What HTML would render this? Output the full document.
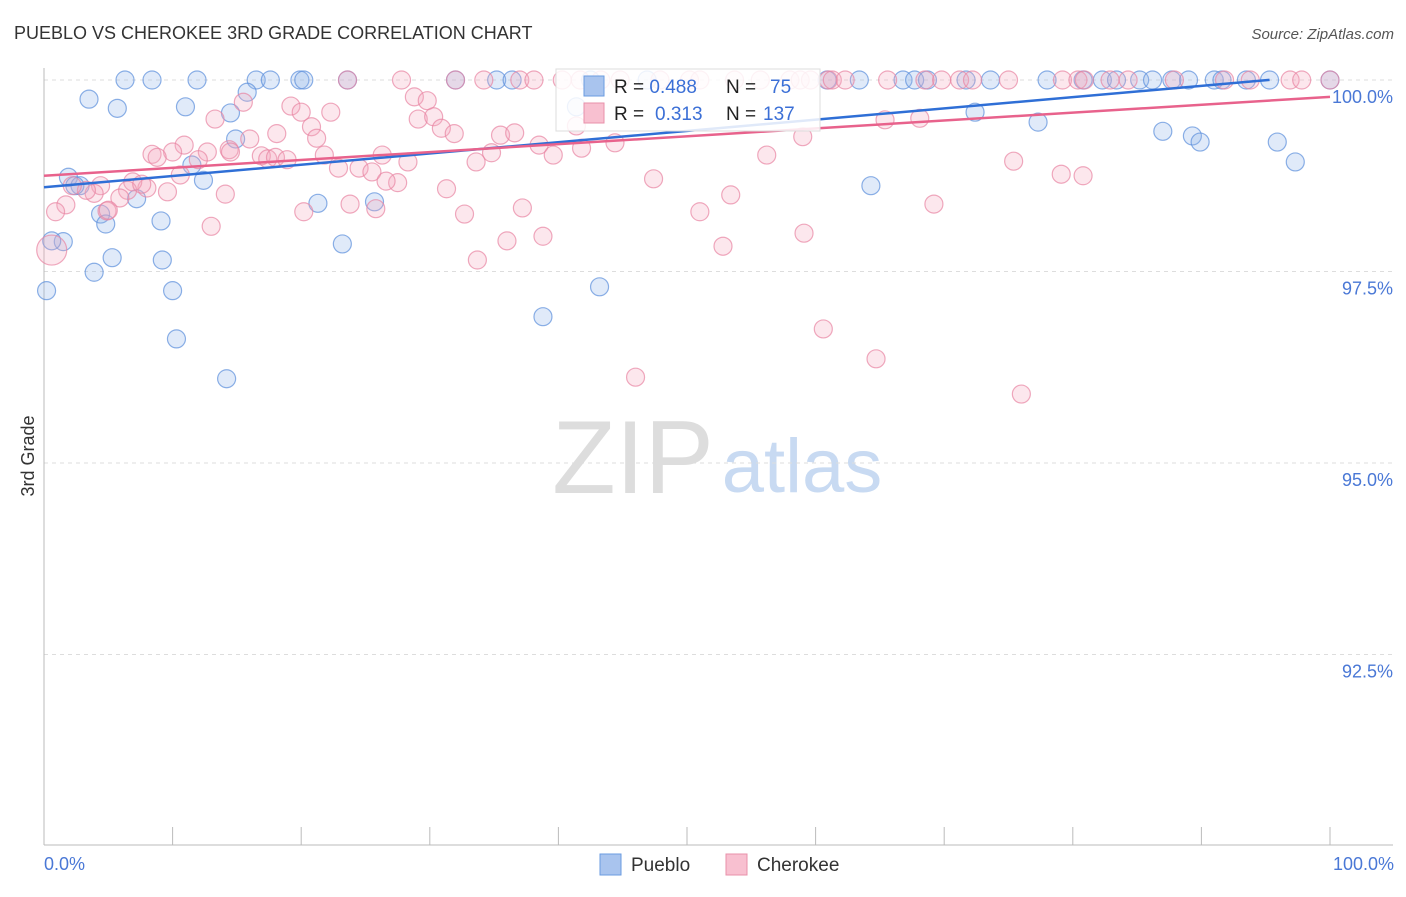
<!DOCTYPE html>
<html><head><meta charset="utf-8"><style>
body{margin:0;background:#fff;font-family:"Liberation Sans",sans-serif}
svg text{font-family:"Liberation Sans",sans-serif}
</style></head><body>
<svg id="chart" width="1406" height="892" xmlns="http://www.w3.org/2000/svg">
<text x="14" y="39" font-size="18" fill="#333">PUEBLO VS CHEROKEE 3RD GRADE CORRELATION CHART</text>
<text x="1394" y="39" font-size="15" fill="#555" text-anchor="end" font-style="italic">Source: ZipAtlas.com</text>
<text x="34" y="456" font-size="18" fill="#333" text-anchor="middle" transform="rotate(-90 34 456)">3rd Grade</text>
<g><text x="633" y="493" font-size="104" fill="#ddd" font-family="Liberation Serif,serif" text-anchor="middle">ZIP</text><text x="802" y="492" font-size="76" fill="#c8daf2" text-anchor="middle">atlas</text></g>
<g id="grid"></g><g id="axes"></g><g id="pts"></g><g id="trend"></g>
<g>
<rect x="556" y="69" width="264" height="62" fill="#fff" fill-opacity="0.85" stroke="#ddd"/>
<rect x="584" y="76" width="20" height="20" fill="#a9c4ee" stroke="#6a9be0"/>
<rect x="584" y="103" width="20" height="20" fill="#f8c0d0" stroke="#e890aa"/>
<text x="614" y="93" font-size="19" fill="#222">R = <tspan fill="#3b6fd6">0.488</tspan><tspan x="726">N = </tspan><tspan x="770" fill="#3b6fd6">75</tspan></text>
<text x="614" y="120" font-size="19" fill="#222">R = <tspan x="655" fill="#3b6fd6">0.313</tspan><tspan x="726">N = </tspan><tspan x="763" fill="#3b6fd6">137</tspan></text>
</g>
<g>
<rect x="600" y="854" width="21" height="21" fill="#a9c4ee" stroke="#6a9be0"/>
<text x="631" y="871" font-size="19" fill="#333">Pueblo</text>
<rect x="726" y="854" width="21" height="21" fill="#f8c0d0" stroke="#e890aa"/>
<text x="757" y="871" font-size="19" fill="#333">Cherokee</text>
</g>
</svg>
<script>
const yTicks=[100,97.5,95,92.5];
const yTickLabels=["100.0%","97.5%","95.0%","92.5%"];
const xEndLabels=["0.0%","100.0%"];
const puebloX=[6.3,8.4,11.9,16.5,17.6,19.9,20.2,23.6,32.0,35.2,36.4,42.5,46.9,60.9,63.4,66.8,67.7,68.7,71.7,73.6,78.0,80.8,82.3,83.4,85.2,86.2,87.7,89.0,91.0,91.6,93.5,95.3,100,
3.5,5.7,11.0,14.5,15.8,14.9,11.5,12.4,1.9,2.8,2.4,4.4,4.8,7.2,9.1,9.2,10.0,10.3,14.2,5.3,3.9,1.5,0.6,0.2,21.3,23.2,25.7,38.8,43.2,64.3,72.4,77.3,87.0,89.3,89.9,95.9,97.3,41.4];
const puebloY=[100,100,100,100,100,100,100,100,100,100,100,100,100,100,100,100,100,100,100,100,100,100,100,100,100,100,100,100,100,100,100,100,100,
99.75,99.63,99.65,99.57,99.84,99.23,98.89,98.69,98.73,98.62,98.62,98.25,98.12,98.45,98.16,97.65,97.25,96.62,96.10,97.68,97.49,97.89,97.90,97.25,98.39,97.86,98.41,96.91,97.30,98.62,99.58,99.45,99.33,99.27,99.19,99.19,98.93,99.65];
const cherokeeX=[23.6,27.8,32.0,34.2,37.0,38.1,40.3,41.7,43.3,44.8,47.9,50.2,51.0,53.7,55.7,58.0,58.8,59.6,61.0,61.3,62.3,65.6,68.5,69.8,71.2,72.2,75.0,79.2,80.4,80.9,82.9,84.3,87.9,91.8,93.8,96.9,97.8,100,
15.5,13.3,19.2,20.0,20.8,22.3,21.2,16.0,18.1,14.4,14.5,12.7,10.9,10.0,8.4,8.8,12.0,16.9,17.4,18.0,18.9,21.8,22.9,24.5,25.5,26.3,28.3,28.8,29.8,29.1,30.3,30.9,31.9,35.5,36.6,34.8,33.6,38.5,39.6,41.8,44.4,41.4,59.0,65.4,68.1,56.2,75.4,79.1,80.8,47.4,31.3,27.5,26.6,25.8,23.8,20.2,14.1,9.6,8.0,6.9,6.5,5.9,4.9,4.4,3.9,3.3,2.2,1.7,0.9,0.6,13.0,32.7,37.2,51.0,53.4,52.8,59.1,69.2,38.8,36.0,33.7,60.6,64.7,46.0,76.0,10.6,7.6,5.0];
const cherokeeY=[100,100,100,100,100,100,100,100,100,100,100,100,100,100,100,100,100,100,100,100,100,100,100,100,100,100,100,100,100,100,100,100,100,100,100,100,100,100,
99.71,99.49,99.66,99.58,99.39,99.58,99.24,99.23,99.30,99.09,99.06,99.06,99.15,99.06,99.03,98.99,98.96,99.01,98.97,98.99,98.96,99.02,98.85,98.85,98.80,99.02,98.93,99.78,99.73,99.49,99.52,99.37,99.30,99.28,99.31,99.05,98.93,99.15,99.02,99.11,99.18,99.40,99.26,99.48,99.50,99.02,98.94,98.77,98.75,98.71,98.58,98.66,98.68,98.32,98.38,98.28,98.51,98.54,98.59,98.67,98.56,98.46,98.29,98.62,98.52,98.56,98.62,98.37,98.28,97.78,98.09,98.25,98.33,98.28,98.50,97.83,98.00,98.38,97.96,97.90,97.65,96.75,96.36,96.12,95.90,98.76,98.64,98.30];
const puebloTrend=[98.6,0.0147];   // intercept, slope
const cherokeeTrend=[98.75,0.0103];
const NS="http://www.w3.org/2000/svg";
const X0=44,X1=1330,Y100=80,PX_PER=76.6;
function sx(v){return X0+(X1-X0)*v/100;}
function sy(v){return Y100+(100-v)*PX_PER;}
function mk(t,a,p){const e=document.createElementNS(NS,t);for(const k in a)e.setAttribute(k,a[k]);(p||document.getElementById('chart')).appendChild(e);return e;}
const grid=document.getElementById('grid'),axes=document.getElementById('axes'),pts=document.getElementById('pts'),tr=document.getElementById('trend');
yTicks.forEach((v,i)=>{
 const l=mk('line',{x1:44,x2:1393,y1:sy(v),y2:sy(v),stroke:'#ddd','stroke-dasharray':'4,4'},grid);
 
 
 const t=mk('text',{x:1393,y:sy(v)+23,'font-size':18,fill:'#4a78d6','text-anchor':'end'},axes);
 t.textContent=yTickLabels[i];
 
 
});
const ax=mk('line',{x1:44,x2:44,y1:68,y2:845,stroke:'#bbb'},axes);


const bx=mk('line',{x1:44,x2:1393,y1:845,y2:845,stroke:'#bbb'},axes);


for(let i=0;i<=10;i++){
 const tk=mk('line',{x1:sx(i*10),x2:sx(i*10),y1:827,y2:845,stroke:'#bbb'},axes);
 
 
}
[[0,'start',44],[1,'end',1394]].forEach(([i,a,x])=>{
 const t=mk('text',{x:x,y:870,'font-size':18,fill:'#4a78d6','text-anchor':a},axes);
 t.textContent=xEndLabels[i];
 
 
});
function dots(xs,ys,fill,stroke,name){
 xs.forEach((x,i)=>{
  const big=(name==='cherokee-point'&&x<1&&ys[i]<97.9);
  const c=mk('circle',{cx:sx(x),cy:sy(ys[i]),r:big?15:9,fill:fill,'fill-opacity':0.28,stroke:stroke,'stroke-width':1.2,'stroke-opacity':0.7},pts);
  
  
 });
}
dots(puebloX,puebloY,'#8fb3ea','#5b8fdc','pueblo-point');
dots(cherokeeX,cherokeeY,'#f5a9bf','#e884a2','cherokee-point');
const l1=mk('line',{x1:sx(0),y1:sy(puebloTrend[0]),x2:sx(95.3),y2:sy(puebloTrend[0]+puebloTrend[1]*95.3),stroke:'#2f6fd6','stroke-width':2.5},tr);


const l2=mk('line',{x1:sx(0),y1:sy(cherokeeTrend[0]),x2:sx(100),y2:sy(cherokeeTrend[0]+cherokeeTrend[1]*100),stroke:'#e8628c','stroke-width':2.5},tr);


</script>
</body></html>
